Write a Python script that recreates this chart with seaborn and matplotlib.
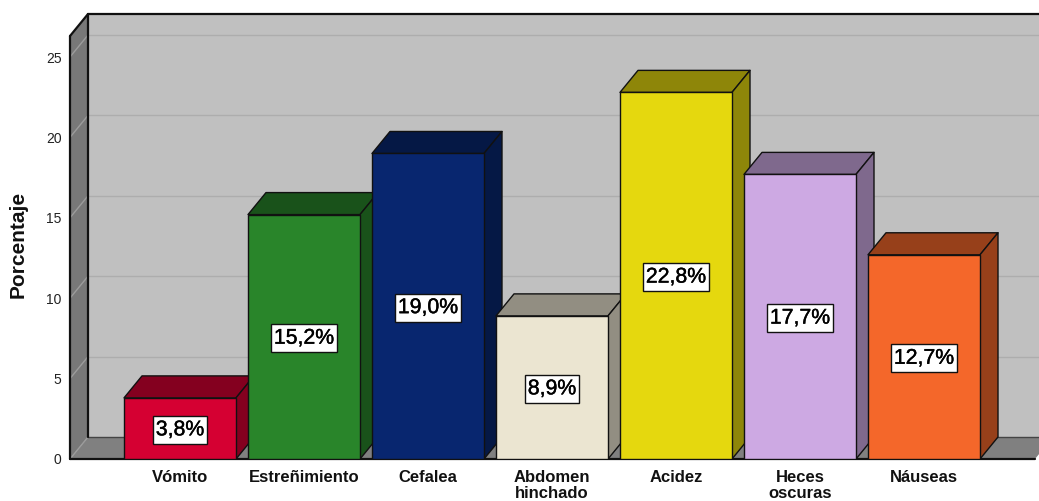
import matplotlib
matplotlib.use("Agg")
import matplotlib.pyplot as plt
import matplotlib.patheffects as pe
from matplotlib.patches import Polygon
from matplotlib.path import Path
from matplotlib.colors import to_rgb
import pandas as pd
import seaborn as sns

categories = ["Vómito", "Estreñimiento", "Cefalea", "Abdomen\nhinchado", "Acidez", "Heces\noscuras", "Náuseas"]
values = [3.8, 15.2, 19.0, 8.9, 22.8, 17.7, 12.7]
value_labels = ["3,8%", "15,2%", "19,0%", "8,9%", "22,8%", "17,7%", "12,7%"]
colors = ["#D50032", "#29852A", "#08266F", "#EBE5D1", "#E5D80E", "#CDA9E3", "#F4672A"]
y_ticks = [0, 5, 10, 15, 20, 25]
y_label = "Porcentaje"

sns.set_theme(style="white")
plt.rcParams["font.family"] = ["Liberation Sans", "DejaVu Sans"]

W, H = 1039, 501
fig = plt.figure(figsize=(W / 100, H / 100), dpi=100, facecolor="white")
ax = fig.add_axes([70 / W, (H - 459) / H, (W - 70) / W, 423 / H])

df = pd.DataFrame({"categoria": categories, "porcentaje": values})
sns.barplot(data=df, x="categoria", y="porcentaje", hue="categoria", order=categories,
            hue_order=categories, palette=colors, legend=False, width=112 / 124,
            saturation=1, edgecolor="#111111", linewidth=1.0, ax=ax, zorder=3)

px_x, px_y = 124.0, 16.08
xl, xr = -110 / px_x, (W - 180) / px_x
ax.set_xlim(xl, xr)
ax.set_ylim(0, 423 / px_y)
dx, dy = 18 / px_x, 22 / px_y
top = 423 / px_y
xfloor = (1035 - 180) / px_x
ink = "#111111"


def label_box(x0, y0, width, height, mutation_size):
    """Label frame: small side padding, taller top and bottom padding."""
    px, py = 3.0, 4.5
    x1, y1 = x0 - px, y0 - py
    x2, y2 = x0 + width + px, y0 + height + py
    return Path([(x1, y1), (x2, y1), (x2, y2), (x1, y2), (x1, y1)], closed=True)


ax.add_patch(Polygon([(xl + dx, dy), (xr + 1, dy), (xr + 1, top + dy), (xl + dx, top + dy)],
                     fc="#C0C0C0", ec="none", zorder=0.5, clip_on=False))
ax.add_patch(Polygon([(xl, 0), (xl + dx, dy), (xl + dx, top + dy), (xl, top)],
                     fc="#787878", ec="none", zorder=0.6, clip_on=False))
ax.add_patch(Polygon([(xl, 0), (xl + dx, dy), (xr + 1, dy), (xr + 1, 0)], fc="#808080", ec="none", zorder=0.7))
ax.add_patch(Polygon([(xfloor, 0), (xfloor + dx, dy), (xr + 1, dy), (xr + 1, 0)], fc="white", ec="none", zorder=0.8))

for v in y_ticks[1:]:
    ax.plot([xl, xl + dx], [v, v + dy], color="#9C9C9C", lw=1.0, zorder=0.9, clip_on=False)
    ax.plot([xl + dx, xr], [v + dy, v + dy], color="#ADADAD", lw=1.0, zorder=0.9, clip_on=False)
ax.plot([xl, xl + dx], [0, dy], color="#9C9C9C", lw=1.0, zorder=0.9)

edge = dict(color=ink, lw=1.6, zorder=1.2, clip_on=False, solid_capstyle="round")
ax.plot([xl, xl], [0, top], **edge)
ax.plot([xl, xl + dx], [top, top + dy], **edge)
ax.plot([xl + dx, xl + dx], [dy, top + dy], **edge)
ax.plot([xl + dx, xr], [top + dy, top + dy], **edge)
ax.plot([xl, xfloor], [0, 0], **edge)
ax.plot([xl + dx, xr], [dy, dy], color="#444444", lw=1.0, zorder=1.1)

for i, (bar, color, label) in enumerate(zip(ax.patches, colors, value_labels)):
    x0, w, h = bar.get_x(), bar.get_width(), bar.get_height()
    dark = tuple(c * 0.62 for c in to_rgb(color))
    bar.set_zorder(3 + i + 0.5)
    kw = dict(fc=dark, ec=ink, lw=1.0, zorder=3 + i, joinstyle="round")
    ax.add_patch(Polygon([(x0, h), (x0 + dx, h + dy), (x0 + w + dx, h + dy), (x0 + w, h)], **kw))
    ax.add_patch(Polygon([(x0 + w, 0), (x0 + w + dx, dy), (x0 + w + dx, h + dy), (x0 + w, h)], **kw))
    ax.annotate(label, xy=(x0 + w / 2, h / 2), xytext=(0, -1), textcoords="offset points",
                ha="center", va="center", fontsize=15.3, color="black",
                zorder=20, bbox=dict(boxstyle=label_box, fc="white", ec=ink, lw=1.0),
                path_effects=[pe.withStroke(linewidth=0.3, foreground="black")])

sns.despine(ax=ax, left=True, bottom=True, top=True, right=True)
ax.set_yticks(y_ticks)
ax.set_yticklabels([str(v) for v in y_ticks], fontsize=10, color="#222222")
ax.set_xticks(range(len(categories)))
ax.set_xticklabels(categories, fontsize=12, fontweight="bold", color="#111111", linespacing=1.1)
ax.tick_params(axis="y", length=0, pad=6)
ax.tick_params(axis="x", length=0, pad=8)
ax.set_xlabel("")
ax.set_ylabel("")
fig.text(18.5 / W, 1 - 244.5 / H, y_label, rotation=90, ha="center", va="center",
         fontsize=15, fontweight="bold", color="#111111")

fig.savefig("out.png", dpi=100, facecolor="white")
